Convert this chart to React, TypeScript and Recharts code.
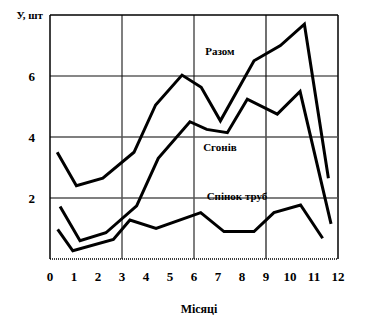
import { LineChart, Line, XAxis, YAxis, ReferenceLine, ReferenceDot } from "recharts";

// місяці / значення
const razomMonths = [0.3, 1.1, 2.2, 3.5, 4.4, 5.5, 6.3, 7.1, 8.5, 9.6, 10.6, 11.6];
const razomValues = [3.5, 2.4, 2.65, 3.5, 5.05, 6.03, 5.63, 4.53, 6.5, 7.0, 7.7, 2.65];

const sgonMonths = [0.42, 1.25, 2.33, 3.61, 4.51, 5.83, 6.53, 7.39, 8.22, 9.47, 10.42, 11.71];
const sgonValues = [1.72, 0.6, 0.86, 1.74, 3.3, 4.5, 4.25, 4.14, 5.24, 4.75, 5.49, 1.15];

const trubMonths = [0.32, 0.95, 2.64, 3.33, 4.42, 6.28, 7.25, 8.5, 9.33, 10.44, 11.36];
const trubValues = [0.97, 0.27, 0.64, 1.28, 1.0, 1.52, 0.9, 0.9, 1.52, 1.77, 0.68];

const xTicks = [0, 1, 2, 3, 4, 5, 6, 7, 8, 9, 10, 11, 12];
const yTicks = [2, 4, 6, 8];

const toRows = (ms: number[], vs: number[]) => ms.map((m, i) => ({ m, v: vs[i] }));

const FONT = '"Liberation Serif", "DejaVu Serif", serif';
const txt = (size: number) => ({ fontFamily: FONT, fontWeight: 700, fontSize: size, fill: "#000" });

const YTick = (props: any) => {
  const { x, y, payload } = props;
  if (payload.value === 8) {
    return (
      <text x={x + 8} y={y} dy="0.355em" textAnchor="end" style={txt(11)}>
        У, шт
      </text>
    );
  }
  return (
    <text x={x} y={y} dy="0.355em" textAnchor="end" style={txt(13)}>
      {payload.value}
    </text>
  );
};

const XTick = (props: any) => {
  const { x, y, payload } = props;
  return (
    <text x={x} y={y} dy="0.71em" textAnchor="middle" style={txt(13)}>
      {payload.value}
    </text>
  );
};

const tag = (text: string) => (p: any) => (
  <text x={p.cx} y={p.cy} dy="0.355em" textAnchor="middle" style={txt(11)}>
    {text}
  </text>
);

export default function App() {
  const lineProps = {
    type: "linear" as const,
    dataKey: "v",
    stroke: "#000",
    strokeWidth: 3,
    dot: false,
    activeDot: false,
    isAnimationActive: false,
  };
  return (
    <div style={{ position: "absolute", left: 0, top: 0, background: "#fff" }}>
      <LineChart width={376} height={326} margin={{ top: 15, right: 38, bottom: 37, left: 0 }}>
        <XAxis
          type="number"
          dataKey="m"
          domain={[0, 12]}
          ticks={xTicks}
          interval={0}
          allowDuplicatedCategory={false}
          tickLine={false}
          tickSize={0}
          tickMargin={13}
          height={30}
          axisLine={{ stroke: "#000", strokeDasharray: "1 1", strokeWidth: 1.5 }}
          tick={XTick}
          label={{
            value: "Місяці",
            position: "bottom",
            offset: 15,
            dx: 5,
            style: txt(12),
          }}
        />
        <YAxis
          type="number"
          domain={[0, 8]}
          ticks={yTicks}
          interval={0}
          width={50}
          tickLine={false}
          tickSize={0}
          tickMargin={15}
          axisLine={{ stroke: "#000", strokeWidth: 1.5 }}
          tick={YTick}
        />
        <ReferenceLine x={3} stroke="#555" strokeWidth={1.5} />
        <ReferenceLine x={6} stroke="#555" strokeWidth={1.5} />
        <ReferenceLine x={9} stroke="#111" strokeWidth={1.2} />
        <ReferenceLine x={12} stroke="#000" strokeWidth={1.5} />
        <ReferenceLine y={2} stroke="#555" strokeWidth={1.5} />
        <ReferenceLine y={4} stroke="#555" strokeWidth={1.5} />
        <ReferenceLine y={6} stroke="#111" strokeWidth={1.2} />
        <ReferenceLine y={8} stroke="#000" strokeWidth={1.5} />

        <Line {...lineProps} data={toRows(razomMonths, razomValues)} />
        <Line {...lineProps} data={toRows(sgonMonths, sgonValues)} />
        <Line {...lineProps} data={toRows(trubMonths, trubValues)} />

        <ReferenceDot x={7.08} y={6.82} r={0} shape={tag("Разом")} />
        <ReferenceDot x={7.08} y={3.67} r={0} shape={tag("Сгонів")} />
        <ReferenceDot x={7.79} y={2.07} r={0} shape={tag("Спінок труб")} />
      </LineChart>
    </div>
  );
}
